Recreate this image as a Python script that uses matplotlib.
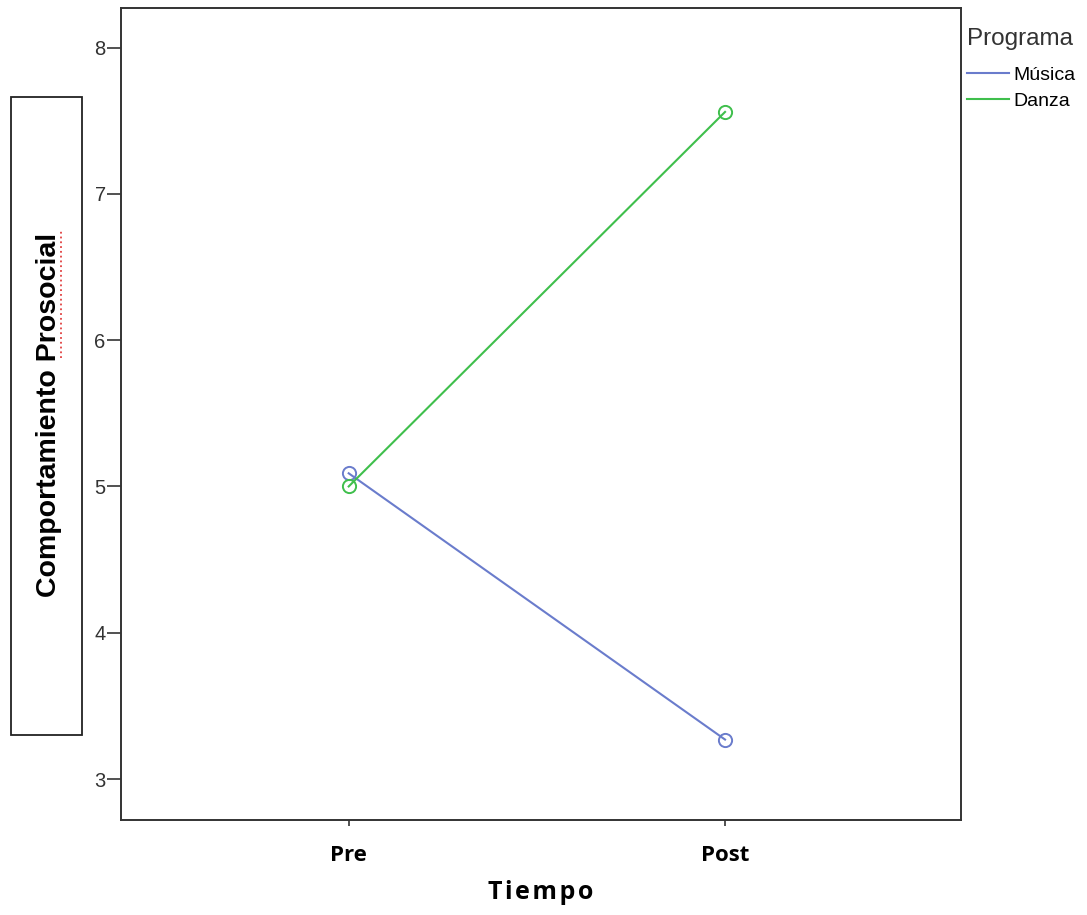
import matplotlib.pyplot as plt
from matplotlib.patches import Rectangle
from matplotlib.lines import Line2D

tiempo = ["Pre", "Post"]
musica = [5.09, 3.27]
danza = [5.00, 7.56]
y_ticks = [3, 4, 5, 6, 7, 8]

blue = "#6a7ccc"
green = "#3fbf4c"

fig = plt.figure(figsize=(10.87, 9.15), dpi=100)
ax = fig.add_axes([0.1113, 0.1038, 0.7728, 0.8874])

x = list(range(len(tiempo)))
ax.plot(x, musica, color=blue, lw=1.5, marker="o", ms=9.5, mfc="none", mew=1.4, label="Música")
ax.plot(x, danza, color=green, lw=1.5, marker="o", ms=9.5, mfc="none", mew=1.4, label="Danza")

ax.set_xlim(-0.605, 1.627)
ax.set_ylim(2.72, 8.27)
ax.set_xticks(x)
ax.set_xticklabels(tiempo, fontsize=16, fontweight="bold", family="Open Sans")
ax.set_yticks(y_ticks)
ax.set_yticklabels([str(v) for v in y_ticks], fontsize=14.5, family="Liberation Sans", color="#333333")
ax.tick_params(axis="y", length=10, width=1.2, color="#333333", pad=1)
ax.tick_params(axis="x", length=4, width=1.2, color="#333333", pad=14)
for s in ax.spines.values():
    s.set_color("#333333")
    s.set_linewidth(1.4)

ax.set_xlabel("\u200a".join("Tiempo"), fontsize=18, fontweight="bold",
              family="Open Sans", labelpad=10)

# y label inside a box, as in the original document
fig.patches.append(Rectangle((11 / 1087, 1 - 735 / 915), 71 / 1087, 638 / 915,
                             transform=fig.transFigure, fill=False, ec="#222222", lw=1.3))
fig.text(49 / 1087, 1 - 415 / 915, "Comportamiento Prosocial", rotation=90,
         ha="center", va="center", fontsize=20.5, fontweight="bold", family="Liberation Sans")
fig.add_artist(Line2D([61 / 1087, 61 / 1087], [1 - 358 / 915, 1 - 230 / 915],
                      transform=fig.transFigure, color="#e04040", lw=1.3, ls=":"))

leg = ax.legend(title="Programa", loc="upper left", bbox_to_anchor=(0.995, 0.988),
                frameon=False, handlelength=2.2, handletextpad=0.2, borderpad=0.0,
                labelspacing=0.45, prop={"family": "Liberation Sans", "size": 14})
leg.get_title().set_fontsize(17.5)
leg.get_title().set_family("Liberation Sans")
leg.get_title().set_color("#333333")
leg._legend_box.align = "left"
leg._legend_box.sep = 12
for h in leg.legend_handles:
    h.set_marker("")

fig.savefig("out.png", dpi=100)
